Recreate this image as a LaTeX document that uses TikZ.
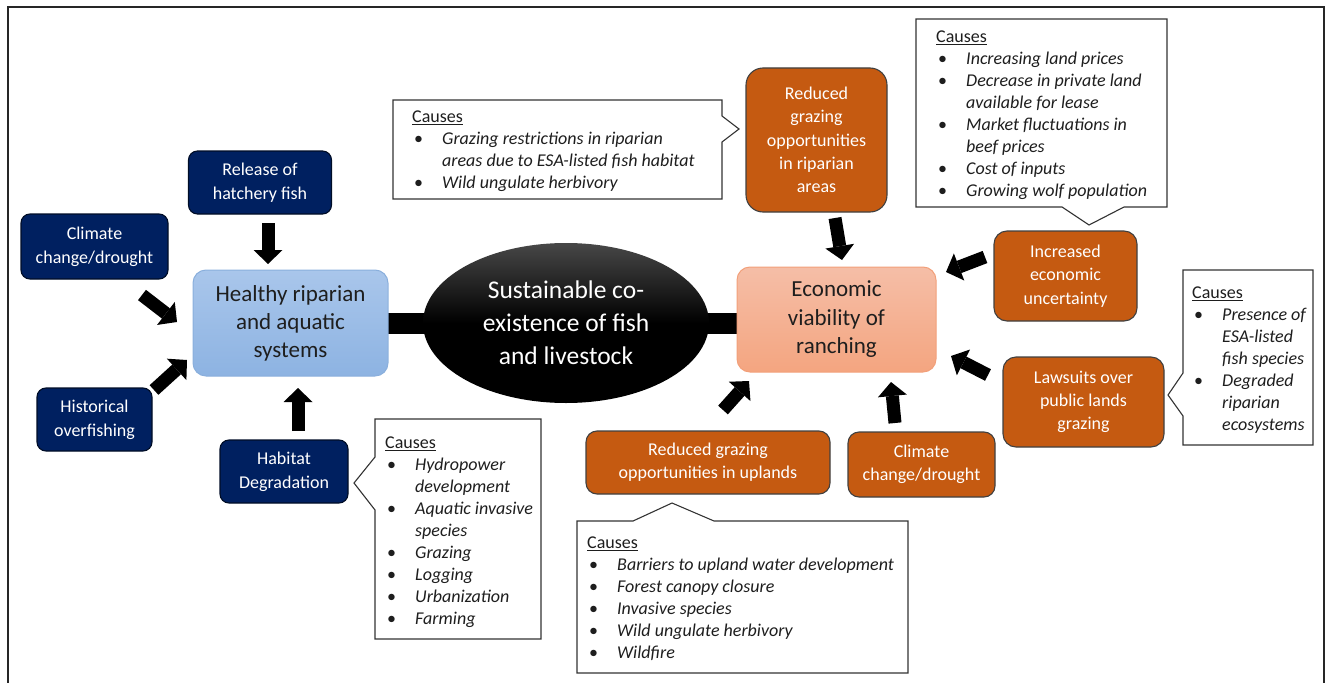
\documentclass[tikz,border=0pt]{standalone}
\usepackage{fontspec}
\setmainfont{Carlito}
\usetikzlibrary{arrows.meta,shapes.geometric,backgrounds}
\definecolor{navy}{HTML}{002060}
\definecolor{rust}{HTML}{C55A11}
\definecolor{hTop}{HTML}{A9C6EB}
\definecolor{hBot}{HTML}{8DB3E2}
\definecolor{hLine}{HTML}{8AAFDC}
\definecolor{eTop}{HTML}{F5BEA7}
\definecolor{eBot}{HTML}{F4A580}
\definecolor{eLine}{HTML}{F2A07A}
\definecolor{ink}{HTML}{1E1E1E}
\newcommand{\bl}{\hspace*{2pt}\textbullet}
\begin{document}
\begin{tikzpicture}[x=1pt,y=-1pt,
  navybox/.style={draw=black!60!navy, line width=1.1pt, fill=navy, rounded corners=9pt,
    text=white, align=center, inner sep=0pt, font=\fontsize{18}{24}\selectfont},
  rustbox/.style={draw=black!75, line width=1.1pt, fill=rust, rounded corners=13pt,
    text=white, align=center, inner sep=0pt, font=\fontsize{18}{23.3}\selectfont},
  healthybox/.style={draw=hLine, line width=1pt, top color=hTop, bottom color=hBot,
    rounded corners=13pt, text=ink, align=center, inner sep=0pt, font=\fontsize{23}{28}\selectfont},
  econbox/.style={draw=eLine, line width=1pt, top color=eTop, bottom color=eBot,
    rounded corners=13pt, text=ink, align=center, inner sep=0pt, font=\fontsize{23}{28.5}\selectfont},
  centreoval/.style={ellipse, top color=black!72, bottom color=black, middle color=black,
    draw=none, text=white, align=center, inner sep=0pt, font=\fontsize{25.5}{33}\selectfont},
  callout/.style={draw=black!80, line width=1.1pt, fill=white},
  causetext/.style={anchor=north west, inner sep=0pt, text=ink, font=\fontsize{18}{22}\selectfont},
  blockarrow/.style={line width=13pt, black, -{Triangle[length=14pt,width=29pt,line width=0pt]}},
  linkbar/.style={line width=21pt, black}
]
\useasboundingbox (0,0) rectangle (1329,682);

% outer frame
\draw[line width=1.3pt, black!85] (8,684) -- (8,7) -- (1324,7) -- (1324,684);

% ---------- callout outlines ----------
\draw[callout] (393,100) -- (722,100) -- (722,116) -- (739,129) -- (722,142) -- (722,199) -- (393,199) -- cycle;
\draw[callout] (916,19) -- (1167,19) -- (1167,207) -- (1124,207) -- (1089,225) -- (1062,207) -- (916,207) -- cycle;
\draw[callout] (375,419) -- (541,419) -- (541,639) -- (375,639) -- (375,510) -- (354,483) -- (375,457) -- cycle;
\draw[callout] (1183,270) -- (1313,270) -- (1313,445) -- (1183,445) -- (1183,416) -- (1168,395) -- (1183,373) -- cycle;
\draw[callout] (577,521) -- (633,521) -- (672,503) -- (714,521) -- (908,521) -- (908,673) -- (577,673) -- cycle;

% ---------- callout texts ----------
\node[causetext] (cRip) at (412,107) {\begin{tabular}{@{}p{30pt}@{}l@{}}
\multicolumn{2}{@{}l@{}}{\underline{Causes}}\\
\bl & \textit{Grazing restrictions in riparian}\\
 & \textit{areas due to ESA-listed fish habitat}\\
\bl & \textit{Wild ungulate herbivory}
\end{tabular}};

\node[causetext] (cEcon) at (936,27) {\begin{tabular}{@{}p{30pt}@{}l@{}}
\multicolumn{2}{@{}l@{}}{\underline{Causes}}\\
\bl & \textit{Increasing land prices}\\
\bl & \textit{Decrease in private land}\\
 & \textit{available for lease}\\
\bl & \textit{Market fluctuations in}\\
 & \textit{beef prices}\\
\bl & \textit{Cost of inputs}\\
\bl & \textit{Growing wolf population}
\end{tabular}};

\node[causetext] (cHab) at (385,433) {\begin{tabular}{@{}p{30pt}@{}l@{}}
\multicolumn{2}{@{}l@{}}{\underline{Causes}}\\
\bl & \textit{Hydropower}\\
 & \textit{development}\\
\bl & \textit{Aquatic invasive}\\
 & \textit{species}\\
\bl & \textit{Grazing}\\
\bl & \textit{Logging}\\
\bl & \textit{Urbanization}\\
\bl & \textit{Farming}
\end{tabular}};

\node[causetext] (cLaw) at (1192,283) {\begin{tabular}{@{}p{30pt}@{}l@{}}
\multicolumn{2}{@{}l@{}}{\underline{Causes}}\\
\bl & \textit{Presence of}\\
 & \textit{ESA-listed}\\
 & \textit{fish species}\\
\bl & \textit{Degraded}\\
 & \textit{riparian}\\
 & \textit{ecosystems}
\end{tabular}};

\node[causetext] (cUpl) at (587,533) {\begin{tabular}{@{}p{30pt}@{}l@{}}
\multicolumn{2}{@{}l@{}}{\underline{Causes}}\\
\bl & \textit{Barriers to upland water development}\\
\bl & \textit{Forest canopy closure}\\
\bl & \textit{Invasive species}\\
\bl & \textit{Wild ungulate herbivory}\\
\bl & \textit{Wildfire}
\end{tabular}};

% ---------- main nodes ----------
\node[navybox, minimum width=147pt, minimum height=65pt] (climL) at (94.5,246.5) {Climate\\change/drought};
\node[navybox, minimum width=143pt, minimum height=63pt] (release) at (260,182.5) {Release of\\hatchery fish};
\node[navybox, minimum width=115pt, minimum height=63pt] (hist) at (94.5,419.5) {Historical\\overfishing};
\node[navybox, minimum width=128pt, minimum height=63pt] (habitat) at (284,471.5) {Habitat\\Degradation};
\node[healthybox, minimum width=195pt, minimum height=106pt] (healthy) at (290.5,323) {Healthy riparian\\and aquatic\\systems};
\node[centreoval, minimum width=286pt, minimum height=160pt] (ell) at (566,323) {Sustainable co-\\existence of fish\\and livestock};
\node[econbox, minimum width=199pt, minimum height=105pt] (econ) at (836.5,319.5) {Economic\\viability of\\ranching};
\node[rustbox, rounded corners=17pt, minimum width=141pt, minimum height=144pt] (ripR) at (816.5,140) {Reduced\\grazing\\opportunities\\in riparian\\areas};
\node[rustbox, minimum width=143pt, minimum height=90pt] (incr) at (1065.5,276) {Increased\\economic\\uncertainty};
\node[rustbox, minimum width=161pt, minimum height=90pt] (laws) at (1083.5,402) {Lawsuits over\\public lands\\grazing};
\node[rustbox, rounded corners=11pt, minimum width=244pt, minimum height=63pt] (upl) at (708,462.5) {Reduced grazing\\opportunities in uplands};
\node[rustbox, rounded corners=11pt, minimum width=147pt, minimum height=65pt] (climR) at (921.5,464.5) {Climate\\change/drought};

% ---------- link bars (behind) ----------
\begin{scope}[on background layer]
\draw[linkbar] (healthy.center) -- (ell.center);
\draw[linkbar] (ell.center) -- (ell.center -| econ.center);
\end{scope}

% ---------- block arrows ----------
\coordinate (a1t) at (268,223); \coordinate (a1h) at (268,264);
\coordinate (a2t) at (142,295); \coordinate (a2h) at (177,322);
\coordinate (a3t) at (154,390); \coordinate (a3h) at (187,360);
\coordinate (a4t) at (298,431); \coordinate (a4h) at (298,388);
\coordinate (a5t) at (835,218); \coordinate (a5h) at (842,260);
\coordinate (a6t) at (985,257); \coordinate (a6h) at (946,272);
\coordinate (a7t) at (988,375); \coordinate (a7h) at (951,356);
\coordinate (a8t) at (895,423); \coordinate (a8h) at (891,382);
\coordinate (a9t) at (723,410); \coordinate (a9h) at (749,381);
\draw[blockarrow] (a1t) -- (a1h);
\draw[blockarrow] (a2t) -- (a2h);
\draw[blockarrow] (a3t) -- (a3h);
\draw[blockarrow] (a4t) -- (a4h);
\draw[blockarrow] (a5t) -- (a5h);
\draw[blockarrow] (a6t) -- (a6h);
\draw[blockarrow] (a7t) -- (a7h);
\draw[blockarrow] (a8t) -- (a8h);
\draw[blockarrow] (a9t) -- (a9h);
\end{tikzpicture}
\end{document}
